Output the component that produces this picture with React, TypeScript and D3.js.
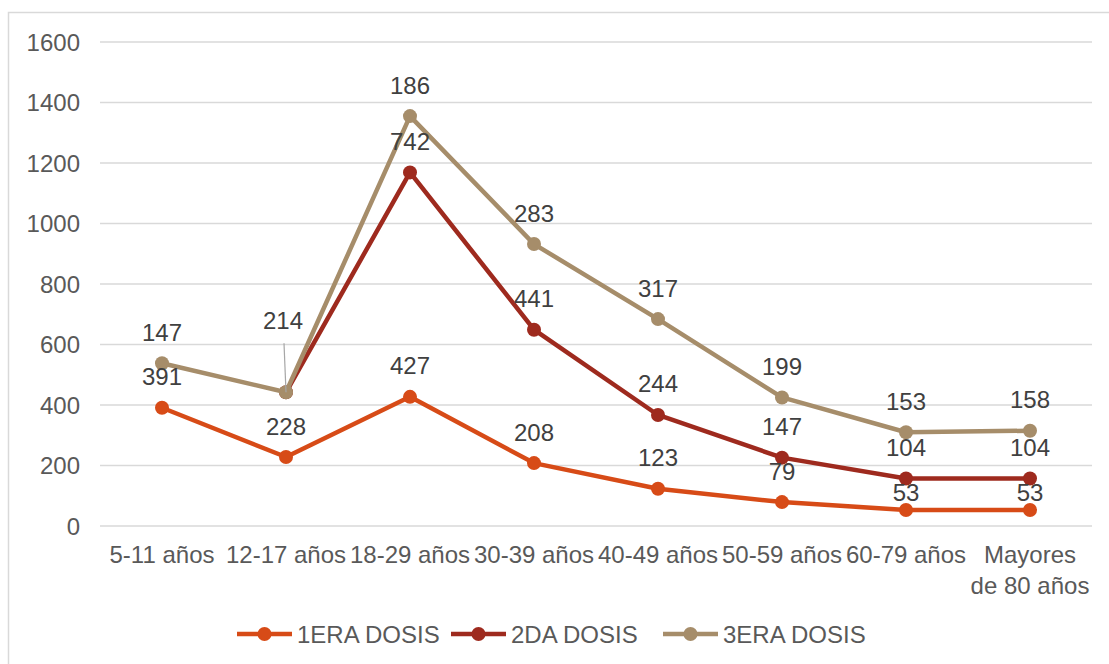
import React from "react";
import * as d3 from "d3";

const categories = ["5-11 años", "12-17 años", "18-29 años", "30-39 años", "40-49 años", "50-59 años", "60-79 años", "Mayores de 80 años"];
const dosis1 = [391, 228, 427, 208, 123, 79, 53, 53];
const dosis2: (number | null)[] = [null, 214, 742, 441, 244, 147, 104, 104];
const dosis3: (number | null)[] = [147, 0, 186, 283, 317, 199, 153, 158];
const seriesNames = ["1ERA DOSIS", "2DA DOSIS", "3ERA DOSIS"];
const seriesColors = ["#D74B17", "#9E2A1E", "#A68D6A"];
const yTicks = [0, 200, 400, 600, 800, 1000, 1200, 1400, 1600];

const W = 1109;
const H = 664;
const FONT = "'Liberation Sans', Arial, sans-serif";
const FS = 24;

// label offsets (centre of label above its point); special cases moved as in the original
const labelOffset: Record<string, number> = { "1-1": 72, "0-6": 17, "0-7": 17 };

export default function App() {
  const x = d3.scaleBand<string>().domain(categories).range([100, 1092]);
  const y = d3.scaleLinear().domain([0, 1600]).range([526, 42]);
  const cx = (c: string) => (x(c) as number) + x.bandwidth() / 2;

  const raw = [dosis1, dosis2, dosis3];
  const cum: number[][] = [];
  raw.forEach((s, si) => {
    cum.push(s.map((v, i) => (si > 0 ? cum[si - 1][i] : 0) + (v ?? 0)));
  });

  const line = d3
    .line<{ c: string; v: number | null; t: number }>()
    .defined((d) => d.v !== null)
    .x((d) => cx(d.c))
    .y((d) => y(d.t));

  const layers = raw.map((s, si) =>
    s.map((v, i) => ({ c: categories[i], v, t: cum[si][i] }))
  );

  const legendX = [237, 451, 663];

  return (
    <svg width={W} height={H} style={{ position: "absolute", left: 0, top: 0, background: "#fff" }} fontFamily={FONT}>
      <rect x={8.5} y={12.5} width={1200} height={700} fill="#fff" stroke="#d9d9d9" strokeWidth={1.5} />
      {yTicks.map((t) => (
        <g key={t}>
          <line x1={100} x2={1092} y1={y(t)} y2={y(t)} stroke="#d9d9d9" strokeWidth={1.5} />
          <text x={80} y={y(t) + 8.5} textAnchor="end" fontSize={FS} fill="#595959">{t}</text>
        </g>
      ))}
      {categories.map((c) => {
        const parts = c === "Mayores de 80 años" ? ["Mayores", "de 80 años"] : [c];
        return (
          <text key={c} x={cx(c)} y={563} textAnchor="middle" fontSize={FS} fill="#595959">
            {parts.map((p, i) => (
              <tspan key={i} x={cx(c)} dy={i === 0 ? 0 : 31}>{p}</tspan>
            ))}
          </text>
        );
      })}
      {layers.map((L, si) => (
        <g key={si}>
          <path d={line(L) || ""} fill="none" stroke={seriesColors[si]} strokeWidth={4.5} strokeLinejoin="round" />
          {L.filter((d) => d.v !== null).map((d) => (
            <circle key={d.c} cx={cx(d.c)} cy={y(d.t)} r={7} fill={seriesColors[si]} />
          ))}
        </g>
      ))}
      {layers.map((L, si) =>
        L.map((d, i) => {
          if (d.v === null || d.v === 0) return null;
          const key = `${si}-${i}`;
          const moved = key === "1-1";
          const py = y(d.t);
          const ly = py - (labelOffset[key] ?? 31);
          return (
            <g key={key}>
              {moved && (
                <line x1={cx(d.c) - 2} y1={ly + 23} x2={cx(d.c)} y2={py} stroke="#a6a6a6" strokeWidth={1.2} />
              )}
              <text x={cx(d.c) - (moved ? 3 : 0)} y={ly + 8.5} textAnchor="middle" fontSize={FS} fill="#404040">{d.v}</text>
            </g>
          );
        })
      )}
      {seriesNames.map((n, i) => (
        <g key={n}>
          <line x1={legendX[i]} x2={legendX[i] + 55} y1={634} y2={634} stroke={seriesColors[i]} strokeWidth={4.5} />
          <circle cx={legendX[i] + 27.5} cy={634} r={7} fill={seriesColors[i]} />
          <text x={legendX[i] + 60} y={642.5} fontSize={FS} fill="#595959">{n}</text>
        </g>
      ))}
    </svg>
  );
}
